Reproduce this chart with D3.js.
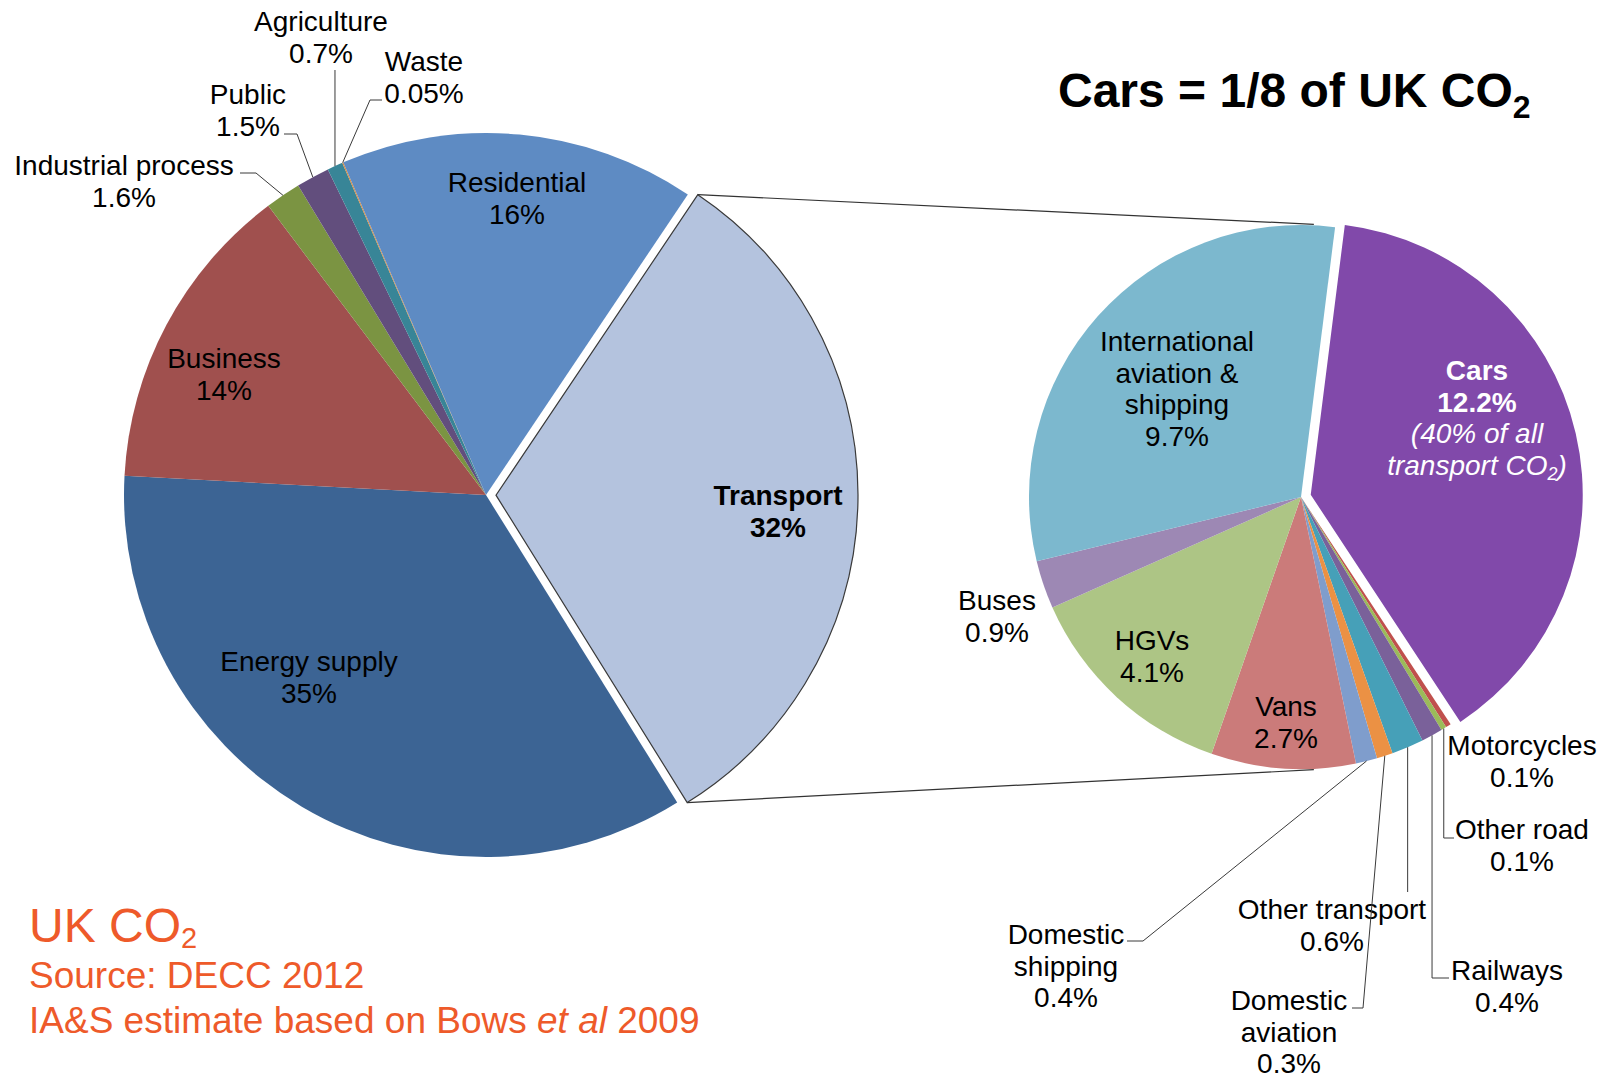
<!DOCTYPE html>
<html><head><meta charset="utf-8">
<script src="https://cdn.jsdelivr.net/npm/d3@7"></script>
<style>
body{margin:0;background:#fff}
svg{display:block}
text{font-family:"Liberation Sans",Arial,Helvetica,sans-serif}
</style>
</head><body>
<svg id="chart" width="1605" height="1078"></svg>
<script>
// ---------- DATA ----------
const mainCategories = ["Transport","Energy supply","Business","Industrial process","Public","Agriculture","Waste","Residential"];
const mainValues     = [32, 35, 14, 1.6, 1.5, 0.7, 0.05, 16];
const mainValueLabels= ["32%","35%","14%","1.6%","1.5%","0.7%","0.05%","16%"];

const subCategories  = ["Cars","Motorcycles","Other road","Railways","Other transport","Domestic aviation","Domestic shipping","Vans","HGVs","Buses","International aviation & shipping"];
const subValues      = [12.2, 0.1, 0.1, 0.4, 0.6, 0.3, 0.4, 2.7, 4.1, 0.9, 9.7];
const subValueLabels = ["12.2%","0.1%","0.1%","0.4%","0.6%","0.3%","0.4%","2.7%","4.1%","0.9%","9.7%"];

const titleText = "Cars = 1/8 of UK CO";
const sourceLines = ["Source: DECC 2012"];

// ---------- STYLE / LAYOUT ----------
const mainColors = {
  "Transport":"#B4C3DE","Energy supply":"#3C6494","Business":"#A0504E",
  "Industrial process":"#7B9442","Public":"#624E7D","Agriculture":"#388597",
  "Waste":"#D98A3E","Residential":"#5E8BC3"
};
const subColors = {
  "Cars":"#8149AA","Motorcycles":"#C0504D","Other road":"#9BBB59","Railways":"#7A619A",
  "Other transport":"#46A0B8","Domestic aviation":"#EB9144","Domestic shipping":"#7F9DCC",
  "Vans":"#CB7B7A","HGVs":"#ADC585","Buses":"#9D88B4","International aviation & shipping":"#7CB8CE"
};
const FONT = 28, LH = 31.7;
const main = {cx:486, cy:495, r:362, explode:10, rot:1.0};
const sub  = {cx:1301, cy:497, r:272, explode:10, start:7.2};

const mainLayout = {
  "Transport":{x:778,y:505,bold:true},
  "Energy supply":{x:309,y:671},
  "Business":{x:224,y:368},
  "Industrial process":{x:124,y:175,leader:[[256,173],[240,173]]},
  "Public":{x:248,y:104,leader:[[297,134],[284,134]]},
  "Agriculture":{x:321,y:31,leader:[[null,70]]},
  "Waste":{x:424,y:71,leader:[[370,100],[382,100]]},
  "Residential":{x:517,y:192}
};
const subLayout = {
  "International aviation & shipping":{x:1177,y:351,lines:["International","aviation &","shipping"]},
  "Buses":{x:997,y:610},
  "HGVs":{x:1152,y:650},
  "Vans":{x:1286,y:716},
  "Motorcycles":{x:1522,y:755},
  "Other road":{x:1522,y:839,leader:[[null,838],[1454,838]]},
  "Other transport":{x:1332,y:919,leader:[[null,892]]},
  "Domestic shipping":{x:1066,y:944,lines:["Domestic","shipping"],leader:[[1143,941],[1127,941]]},
  "Railways":{x:1507,y:980,leader:[[null,978],[1449,978]]},
  "Domestic aviation":{x:1289,y:1010,lines:["Domestic","aviation"],leader:[[1363,1008],[1352,1008]]}
};

const rad = d => d*Math.PI/180;
const svg = d3.select("#chart");

// ---------- MAIN PIE ----------
const mainTotal = d3.sum(mainValues);
const mainStart = Math.PI/2 - Math.PI*mainValues[0]/mainTotal + rad(main.rot);
const mainPie = d3.pie().sort(null).value(d=>d.v).startAngle(mainStart).endAngle(mainStart+2*Math.PI);
const mainData = mainPie(mainCategories.map((c,i)=>({c, v:mainValues[i], lab:mainValueLabels[i]})));
const mainArc = d3.arc().innerRadius(0).outerRadius(main.r);
const polar = (o, a, r) => [o.cx + r*Math.sin(a), o.cy - r*Math.cos(a)];

const gMain = svg.append("g");
mainData.forEach(d=>{
  const isT = d.data.c==="Transport";
  const mid = (d.startAngle+d.endAngle)/2;
  const dx = isT ? main.explode*Math.sin(mid) : 0, dy = isT ? -main.explode*Math.cos(mid) : 0;
  gMain.append("path")
    .attr("d", mainArc(d))
    .attr("transform", `translate(${main.cx+dx},${main.cy+dy})`)
    .attr("fill", mainColors[d.data.c])
    .attr("stroke", isT ? "#3a3a3a" : "none")
    .attr("stroke-width", isT ? 1.2 : 0)
    .attr("stroke-linejoin","miter");
});

// ---------- SUB PIE ----------
const subStart = rad(sub.start);
const subPie = d3.pie().sort(null).value(d=>d.v).startAngle(subStart).endAngle(subStart+2*Math.PI);
const subData = subPie(subCategories.map((c,i)=>({c, v:subValues[i], lab:subValueLabels[i]})));
const subArc = d3.arc().innerRadius(0).outerRadius(sub.r);
const gSub = svg.append("g");
subData.forEach(d=>{
  const isC = d.data.c==="Cars";
  const mid = (d.startAngle+d.endAngle)/2;
  const dx = isC ? sub.explode*Math.sin(mid) : 0, dy = isC ? -sub.explode*Math.cos(mid) : 0;
  gSub.append("path")
    .attr("d", subArc(d))
    .attr("transform", `translate(${sub.cx+dx},${sub.cy+dy})`)
    .attr("fill", subColors[d.data.c]);
});

// ---------- CONNECTOR LINES ----------
const T = mainData[0];
const tMid=(T.startAngle+T.endAngle)/2;
const tOff={cx:main.cx+main.explode*Math.sin(tMid), cy:main.cy-main.explode*Math.cos(tMid)};
const pTop = polar(tOff, T.startAngle, main.r), pBot = polar(tOff, T.endAngle, main.r);
const sTop = polar(sub, rad(2.7), sub.r+1), sBot = polar(sub, rad(177.3), sub.r+1);
svg.append("line").attr("x1",pTop[0]).attr("y1",pTop[1]).attr("x2",sTop[0]).attr("y2",sTop[1]).attr("stroke","#333").attr("stroke-width",1.2);
svg.append("line").attr("x1",pBot[0]).attr("y1",pBot[1]).attr("x2",sBot[0]).attr("y2",sBot[1]).attr("stroke","#333").attr("stroke-width",1.2);

// ---------- LABELS ----------
function drawLabel(g, lay, lines){
  const t = g.append("text").attr("text-anchor","middle").attr("font-size",FONT)
    .attr("fill","#000").attr("font-weight", lay.bold?"bold":"normal");
  lines.forEach((ln,i)=>{
    t.append("tspan").attr("x",lay.x).attr("y",lay.y+i*LH).text(ln);
  });
}
function drawLeader(g, o, d, lay){
  if(!lay.leader) return;
  const mid=(d.startAngle+d.endAngle)/2;
  const pts=[polar(o, mid, o.r)];
  lay.leader.forEach(p=>{ const prev=pts[pts.length-1]; pts.push([p[0]==null?prev[0]:p[0], p[1]]); });
  g.append("path").attr("d", d3.line()(pts)).attr("fill","none").attr("stroke","#3a3a3a").attr("stroke-width",1);
}
const gLab = svg.append("g");
mainData.forEach(d=>{
  const lay = mainLayout[d.data.c];
  drawLeader(gLab, main, d, lay);
  drawLabel(gLab, lay, (lay.lines||[d.data.c]).concat([d.data.lab]));
});
subData.forEach(d=>{
  const lay = subLayout[d.data.c];
  if(!lay) return;
  drawLeader(gLab, sub, d, lay);
  drawLabel(gLab, lay, (lay.lines||[d.data.c]).concat([d.data.lab]));
});
// Cars label (white, bold + italic)
{
  const d = subData[0];
  const x=1477, y=380;
  const t = gLab.append("text").attr("text-anchor","middle").attr("font-size",FONT).attr("fill","#fff");
  t.append("tspan").attr("x",x).attr("y",y).attr("font-weight","bold").text(d.data.c);
  t.append("tspan").attr("x",x).attr("y",y+LH).attr("font-weight","bold").text(d.data.lab);
  t.append("tspan").attr("x",x).attr("y",y+2*LH).attr("font-style","italic").text("(40% of all");
  const t2 = gLab.append("text").attr("text-anchor","middle").attr("font-size",FONT).attr("fill","#fff").attr("font-style","italic")
    .attr("x",x).attr("y",y+3*LH);
  t2.append("tspan").text("transport CO");
  t2.append("tspan").attr("font-size",18).attr("dy",5).text("2");
  t2.append("tspan").attr("dy",-5).text(")");
}

// ---------- TITLE ----------
const title = svg.append("text").attr("x",1058).attr("y",107).attr("font-size",48).attr("font-weight","bold").attr("fill","#000");
title.append("tspan").text(titleText);
title.append("tspan").attr("font-size",32).attr("dy",11).text("2");

// ---------- SOURCE ----------
const orange="#EE5A2A";
const s1 = svg.append("text").attr("x",29).attr("y",942).attr("font-size",48).attr("fill",orange);
s1.append("tspan").text("UK CO");
s1.append("tspan").attr("font-size",29).attr("dy",6).text("2");
svg.append("text").attr("x",29).attr("y",988).attr("font-size",37).attr("fill",orange).text(sourceLines[0]);
const s3 = svg.append("text").attr("x",29).attr("y",1033).attr("font-size",37).attr("fill",orange);
s3.append("tspan").text("IA&S estimate based on Bows ");
s3.append("tspan").attr("font-style","italic").text("et al");
s3.append("tspan").text(" 2009");
</script>
</body></html>
